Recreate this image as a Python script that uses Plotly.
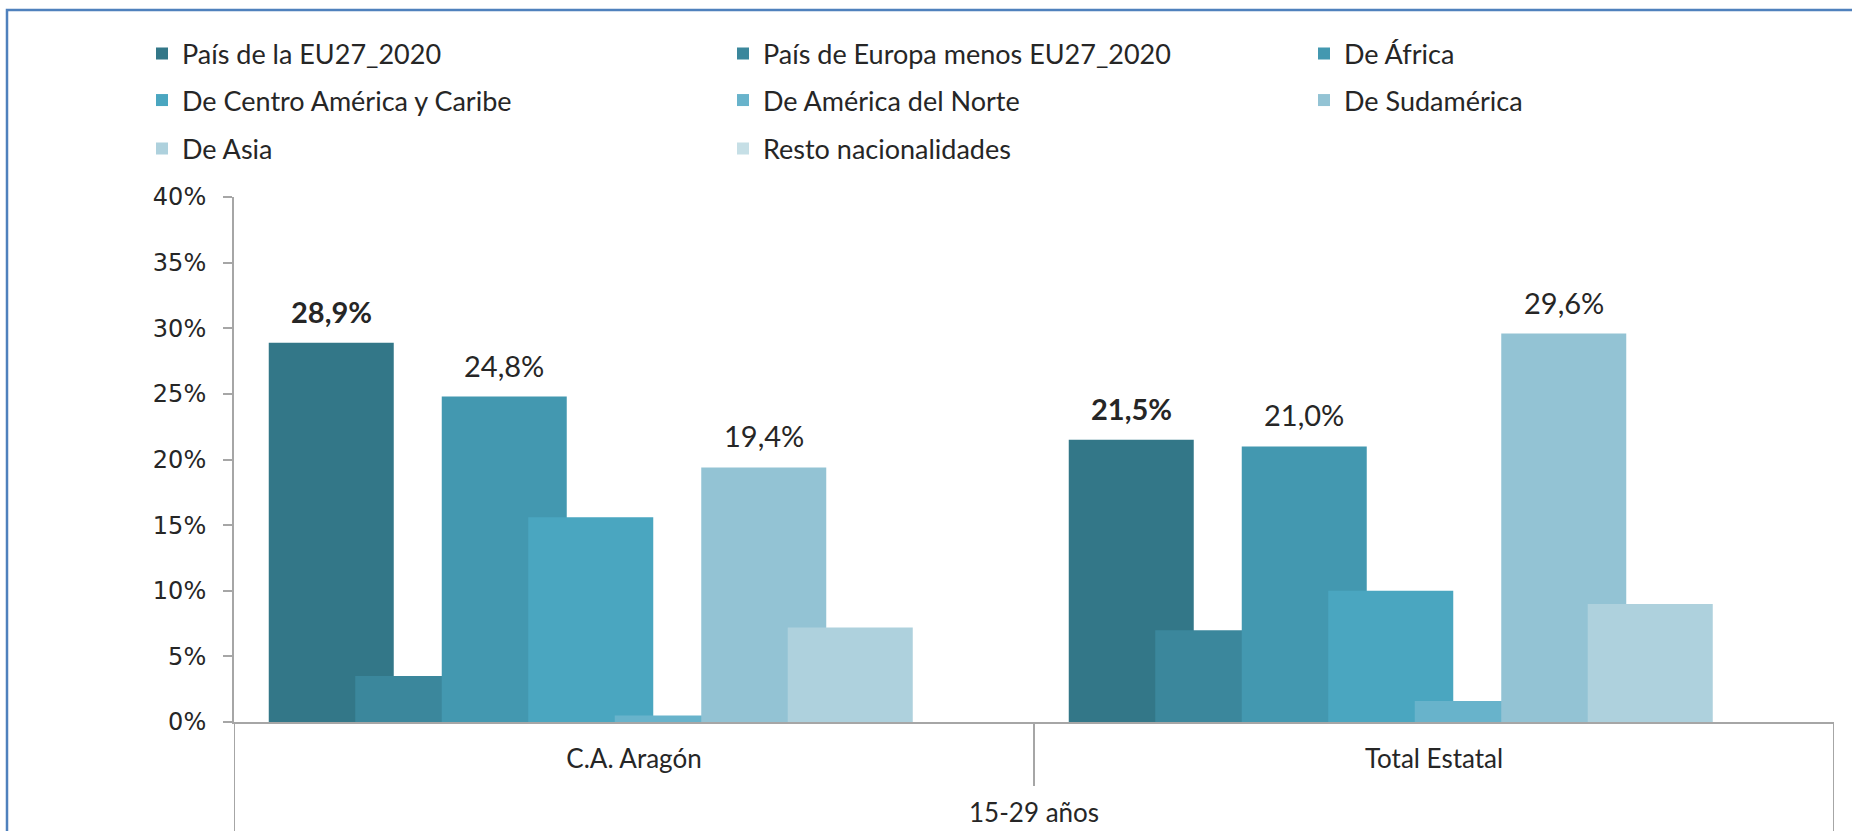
import plotly.graph_objects as go

# ---------------- data ----------------
group_label = "15-29 años"
categories = ["C.A. Aragón", "Total Estatal"]
series_names = [
    "País de la EU27_2020",
    "País de Europa menos EU27_2020",
    "De África",
    "De Centro América y Caribe",
    "De América del Norte",
    "De Sudamérica",
    "De Asia",
    "Resto nacionalidades",
]
eu27 = [28.9, 21.5]
europa_no_eu27 = [3.5, 7.0]
africa = [24.8, 21.0]
centro_america = [15.6, 10.0]
america_norte = [0.5, 1.6]
sudamerica = [19.4, 29.6]
asia = [7.2, 9.0]
resto = [0.0, 0.0]
series_values = [eu27, europa_no_eu27, africa, centro_america,
                 america_norte, sudamerica, asia, resto]
y_tick_values = [0, 5, 10, 15, 20, 25, 30, 35, 40]
y_tick_labels = ["0%", "5%", "10%", "15%", "20%", "25%", "30%", "35%", "40%"]
labelled_series = ["País de la EU27_2020", "De África", "De Sudamérica"]
bold_series = ["País de la EU27_2020"]

# ---------------- style ----------------
colors = ["#337788", "#3b879c", "#4398b0", "#4aa6c0",
          "#68b3cb", "#93c3d4", "#aed1dd", "#c6dfe6"]
W, H = 1852, 831
ML, MR, MT, MB = 234, 18, 197, 109
PW, PH = W - ML - MR, H - MT - MB
LABEL_FONT = "Lato, 'Open Sans', sans-serif"
TICK_FONT = "'DejaVu Sans', Verdana, sans-serif"
TEXT_COLOR = "#262626"
AXIS_COLOR = "#a6a6a6"
LEGEND_SIZE = 27
CAT_SIZE = 26
DATA_LABEL_SIZE = 29

bar_width = 125 / 800.0
bar_step = 86.5 / 800.0
n_series = len(series_names)


def px_to_paper_x(px):
    return (px - ML) / PW


def px_to_paper_y(py):
    return (H - MB - py) / PH


fig = go.Figure()

legend_of = ["legend", "legend", "legend",
             "legend2", "legend2", "legend2",
             "legend3", "legend3"]

annotations = []
for i, (name, vals, col) in enumerate(zip(series_names, series_values, colors)):
    center_off = (i - (n_series - 1) / 2.0) * bar_step
    fig.add_trace(go.Bar(
        name=name,
        x=categories,
        y=vals,
        width=bar_width,
        offset=center_off - bar_width / 2.0,
        marker=dict(color=col, line=dict(width=0)),
        legend=legend_of[i],
        hovertemplate="%{x}: %{y:.1f}%<extra>" + name + "</extra>",
    ))
    if name in labelled_series:
        bold = name in bold_series
        for ci, v in enumerate(vals):
            txt = f"{v:.1f}%".replace(".", ",")
            if bold:
                txt = "<b>" + txt + "</b>"
            annotations.append(dict(
                x=ci + center_off, y=v, xref="x", yref="y",
                text=txt, showarrow=False, yanchor="bottom",
                xanchor="center", yshift=12,
                font=dict(family=LABEL_FONT, size=DATA_LABEL_SIZE, color=TEXT_COLOR),
            ))

# group label below the category labels
annotations.append(dict(
    x=0.5, y=px_to_paper_y(812), xref="paper", yref="paper",
    text=group_label, showarrow=False, yanchor="middle", xanchor="center",
    font=dict(family=LABEL_FONT, size=CAT_SIZE, color=TEXT_COLOR),
))

shapes = []
# category dividers (boundaries of categories)
for xb, ybot in [(-0.5, H + 5), (0.5, 786), (len(categories) - 0.5, H + 5)]:
    shapes.append(dict(type="line", xref="x", yref="paper",
                       x0=xb, x1=xb, y0=0, y1=px_to_paper_y(ybot),
                       line=dict(color=AXIS_COLOR, width=2)))
# blue frame (top and left edges visible)
shapes.append(dict(type="rect", xref="paper", yref="paper",
                   x0=px_to_paper_x(7), x1=px_to_paper_x(W + 20),
                   y0=px_to_paper_y(H + 20), y1=px_to_paper_y(10),
                   line=dict(color="#4f81bd", width=2.5),
                   fillcolor="rgba(0,0,0,0)", layer="below"))

legend_common = dict(
    orientation="h", xanchor="left", yanchor="middle",
    x=px_to_paper_x(142),
    entrywidth=536, entrywidthmode="pixels",
    font=dict(family=LABEL_FONT, size=LEGEND_SIZE, color=TEXT_COLOR),
    bgcolor="rgba(0,0,0,0)", borderwidth=0,
    traceorder="normal",
)

fig.update_layout(
    width=W, height=H,
    margin=dict(l=ML, r=MR, t=MT, b=MB, autoexpand=False),
    paper_bgcolor="white", plot_bgcolor="white",
    barmode="overlay",
    showlegend=True,
    legend=dict(legend_common, y=px_to_paper_y(54)),
    legend2=dict(legend_common, y=px_to_paper_y(100.5)),
    legend3=dict(legend_common, y=px_to_paper_y(149)),
    xaxis=dict(
        type="category",
        categoryorder="array", categoryarray=categories,
        range=[-0.5, len(categories) - 0.5],
        showline=True, linecolor=AXIS_COLOR, linewidth=2,
        ticks="", showgrid=False, zeroline=False,
        tickfont=dict(family=LABEL_FONT, size=CAT_SIZE, color=TEXT_COLOR),
        ticklabelstandoff=13,
    ),
    yaxis=dict(
        range=[0, 40],
        tickmode="array", tickvals=y_tick_values, ticktext=y_tick_labels,
        showline=True, linecolor=AXIS_COLOR, linewidth=2,
        ticks="outside", ticklen=9, tickwidth=2, tickcolor=AXIS_COLOR,
        showgrid=False, zeroline=False,
        tickfont=dict(family=TICK_FONT, size=24, color=TEXT_COLOR),
        ticklabelstandoff=12,
    ),
    annotations=annotations,
    shapes=shapes,
)

fig.write_html(
    "out.html",
    config={"displayModeBar": False},
    post_script="document.body.style.margin='0';document.body.style.padding='0';"
                "document.documentElement.style.overflow='hidden';",
)
